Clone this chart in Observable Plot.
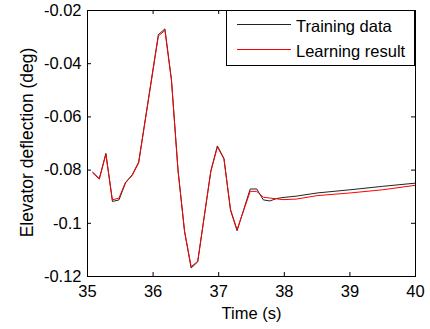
<!DOCTYPE html>
<html>
<head>
<meta charset="utf-8">
<script src="https://cdn.jsdelivr.net/npm/d3@7"></script>
<script src="https://cdn.jsdelivr.net/npm/@observablehq/plot@0.6"></script>
<style>
  html, body { margin: 0; padding: 0; background: #fff; }
  #chart { position: relative; width: 430px; height: 329px; }
</style>
</head>
<body>
<div id="chart"></div>
<script>
// Time samples (s)
const time = [35.08, 35.18, 35.28, 35.38, 35.48, 35.58, 35.68, 35.78, 36.08, 36.18, 36.28, 36.38, 36.48, 36.58, 36.68, 36.88, 36.98, 37.08, 37.18, 37.28, 37.48, 37.58, 37.68, 37.78, 37.88, 37.98, 38.18, 38.5, 39.0, 39.5, 40.0];
// Training data (deg)
const training = [-0.0808, -0.0832, -0.0737, -0.0918, -0.0912, -0.0848, -0.0818, -0.0770, -0.0291, -0.0269, -0.0460, -0.0800, -0.1032, -0.1168, -0.1145, -0.0803, -0.0709, -0.0756, -0.0951, -0.1028, -0.0871, -0.0871, -0.0912, -0.0916, -0.0907, -0.0903, -0.0898, -0.0886, -0.0874, -0.0861, -0.0849];
// Learning result (deg)
const learning = [-0.0811, -0.0834, -0.0741, -0.0912, -0.0905, -0.0845, -0.0821, -0.0773, -0.0296, -0.0275, -0.0463, -0.0802, -0.1030, -0.1163, -0.1143, -0.0806, -0.0713, -0.0758, -0.0947, -0.1024, -0.0880, -0.0880, -0.0902, -0.0905, -0.0908, -0.0911, -0.0909, -0.0896, -0.0886, -0.0874, -0.0857];

const xTicks = [35, 36, 37, 38, 39, 40];
const yTicks = [-0.12, -0.1, -0.08, -0.06, -0.04, -0.02];
const seriesNames = ["Training data", "Learning result"];
const seriesColors = ["#222222", "#ff0000"];
const xLabel = "Time (s)";
const yLabel = "Elevator deflection (deg)";

const W = 430, H = 329;
const mT = 10, mR = 15, mB = 53, mL = 87;
const pw = W - mL - mR, ph = H - mT - mB;
const tl = 4;

const trainRows = time.map((t, i) => ({t, v: training[i]}));
const learnRows = time.map((t, i) => ({t, v: learning[i]}));

const fmt = d => String(d);

const plot = Plot.plot({
  width: W, height: H,
  marginTop: mT, marginRight: mR, marginBottom: mB, marginLeft: mL,
  style: {fontFamily: "'Liberation Sans', Arial, sans-serif", fontSize: "16.5px", background: "#fff", color: "#000"},
  x: {domain: [35, 40]},
  y: {domain: [-0.12, -0.02]},
  marks: [
    Plot.axisX({ticks: xTicks, tickSize: 0, tickPadding: 9, tickFormat: fmt, label: null}),
    Plot.axisY({ticks: yTicks, tickSize: 0, tickPadding: 6, tickFormat: fmt, label: null}),
    // inward ticks on all four sides
    Plot.tickX(xTicks, {x: d => d, insetTop: ph - tl, stroke: "#000"}),
    Plot.tickX(xTicks, {x: d => d, insetBottom: ph - tl, stroke: "#000"}),
    Plot.tickY(yTicks, {y: d => d, insetRight: pw - tl, stroke: "#000"}),
    Plot.tickY(yTicks, {y: d => d, insetLeft: pw - tl, stroke: "#000"}),
    Plot.line(trainRows, {x: "t", y: "v", stroke: seriesColors[0], strokeWidth: 1}),
    Plot.line(learnRows, {x: "t", y: "v", stroke: seriesColors[1], strokeWidth: 1}),
    Plot.frame({stroke: "#000", strokeWidth: 1}),
    Plot.text([xLabel], {text: d => d, frameAnchor: "bottom", dy: 37.5, lineAnchor: "middle", textAnchor: "middle", fontSize: 16.5, fill: "#000"}),
    Plot.text([yLabel], {text: d => d, frameAnchor: "left", dx: -60, dy: -1, rotate: -90, lineAnchor: "middle", textAnchor: "middle", fontSize: 17.5, fill: "#000"})
  ]
});
document.getElementById("chart").appendChild(plot);

// Legend box (inside the plot, top right)
const svg = d3.select(plot);
const lg = svg.append("g").attr("text-anchor", "start");
const lx = 226.5, ly = 10.5, lw = 188, lh = 55;
lg.append("rect").attr("x", lx).attr("y", ly).attr("width", lw).attr("height", lh)
  .attr("fill", "#fff").attr("stroke", "#000").attr("stroke-width", 1);
seriesNames.forEach((name, i) => {
  const yy = 24.5 + i * 25;
  lg.append("line").attr("x1", 237).attr("x2", 291).attr("y1", yy).attr("y2", yy)
    .attr("stroke", seriesColors[i]).attr("stroke-width", 1);
  lg.append("text").attr("x", 296).attr("y", yy + 7).attr("fill", "#000")
    .attr("text-anchor", "start").attr("font-size", 16.5).text(name);
});
</script>
</body>
</html>
